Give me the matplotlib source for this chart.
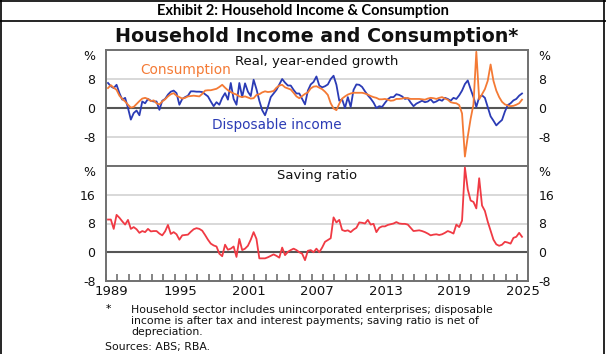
import numpy as np
import matplotlib
matplotlib.use('Agg')
import matplotlib.pyplot as plt
from matplotlib.lines import Line2D

# quarterly data, first quarter 1989 Q1
START_YEAR = 1989

# real household consumption, year-ended growth (%)
consumption = [
    5.5, 6.3, 5.6, 5.0, 3.4, 2.5, 1.8, 0.9, 0.1, 0.3,
    1.1, 1.9, 2.6, 2.8, 2.5, 1.9, 2.1, 1.3, 1.0, 1.8,
    2.4, 3.2, 3.8, 4.1, 3.4, 3.0, 2.6, 2.8, 3.2, 3.3,
    3.4, 3.3, 3.2, 3.9, 4.8, 4.9, 4.9, 5.1, 5.3, 5.8,
    6.4, 5.6, 4.9, 4.4, 4.0, 3.7, 3.2, 3.0, 3.2, 2.9,
    2.6, 2.7, 3.6, 3.8, 4.3, 4.6, 4.4, 4.5, 4.7, 5.6,
    6.2, 6.4, 5.7, 5.4, 5.1, 4.2, 3.2, 2.7, 3.3, 3.9,
    4.3, 5.4, 5.9, 6.0, 5.6, 5.2, 4.5, 3.6, 1.3, -0.1,
    -0.6, 1.2, 2.6, 3.2, 3.7, 4.0, 4.2, 4.2, 4.2, 4.2,
    4.0, 3.7, 3.3, 3.0, 2.8, 2.4, 2.4, 2.5, 2.3, 2.0,
    2.1, 2.5, 2.5, 2.6, 2.8, 2.7, 2.5, 2.5, 2.5, 2.5,
    2.4, 2.3, 2.6, 2.8, 2.7, 2.5, 2.8, 3.0, 2.6, 2.3,
    1.6, 1.4, 1.3, 0.8, -1.5, -13.4, -7.9, -3.0, 1.0, 15.5,
    2.4, 3.8, 5.2, 7.5, 12.0, 7.5, 4.8, 3.0, 1.7, 1.0,
    0.7, 0.5, 0.6, 0.9, 1.3, 2.3,
]

# real household disposable income, year-ended growth (%)
disposable_income = [
    6.9, 6.0, 5.5, 6.4, 4.1, 2.3, 2.8, 0.0, -3.2, -1.4,
    -0.7, -2.0, 1.8, 1.3, 2.5, 2.0, 1.8, 1.8, -0.5, 2.0,
    2.5, 3.7, 4.5, 4.8, 4.1, 0.9, 2.5, 3.0, 3.4, 4.6,
    4.6, 4.5, 4.5, 4.4, 3.8, 3.2, 1.8, 0.5, 1.6, 0.9,
    2.8, 4.1, 2.3, 6.9, 2.5, 0.9, 6.9, 3.0, 6.8, 4.5,
    3.3, 7.8, 5.2, 2.0, -0.6, -2.0, 0.3, 3.0, 4.0, 5.0,
    6.5, 8.0, 7.0, 6.2, 6.2, 5.0, 4.0, 4.0, 2.5, 1.0,
    4.8, 6.5, 7.2, 8.7, 6.2, 5.7, 6.0, 6.5, 8.0, 8.9,
    6.4, 2.0, 2.4, 0.0, 3.0, 0.3, 5.0, 6.5, 6.4, 5.8,
    4.6, 3.5, 2.6, 1.5, 0.0, 0.5, 0.3, 1.4, 2.4, 3.0,
    3.0, 3.8, 3.6, 3.2, 2.5, 2.7, 1.5, 0.5, 1.2, 1.6,
    2.0, 1.6, 1.8, 2.4, 1.5, 1.8, 2.3, 2.0, 2.8, 2.5,
    2.0, 2.8, 2.5, 3.5, 4.8, 6.6, 7.6, 5.2, 3.0, 0.3,
    3.0, 3.5, 2.8, 0.3, -2.3, -3.5, -4.8, -4.0, -3.3, -1.0,
    0.8, 1.3, 2.1, 2.5, 3.4, 4.0,
]

# household saving ratio (%)
saving_ratio = [
    9.1, 9.1, 6.5, 10.4, 9.6, 8.6, 7.7, 9.0, 6.5, 7.0,
    6.4, 5.4, 5.9, 5.6, 6.5, 5.8, 5.9, 5.9, 5.2, 4.7,
    5.8, 7.6, 5.1, 5.6, 5.0, 3.5, 4.7, 4.8, 4.9, 5.7,
    6.4, 6.7, 6.5, 6.0, 4.8, 3.5, 2.4, 1.9, 1.6, -0.4,
    -1.1, 2.1, 0.7, 1.0, 1.6, -1.3, 3.7, 0.6, 1.0, 1.8,
    3.5, 5.6, 3.7, -1.7, -1.7, -1.7, -1.4, -1.0, -0.6, -1.0,
    -1.5, 1.3, -0.8, 0.1, 0.6, 1.0, 0.6, 0.0, -0.4, -2.2,
    0.4, 0.6, 0.0, 1.0, 0.0, 1.3, 2.9, 3.4, 3.9, 9.7,
    8.3, 9.0, 6.2, 5.9, 6.1, 5.6, 6.3, 6.8, 8.3, 8.2,
    8.0, 9.0, 7.7, 7.9, 5.6, 6.8, 7.2, 7.2, 7.6, 7.8,
    8.0, 8.4, 8.0, 7.9, 7.9, 7.7, 6.8, 5.9, 6.0, 6.1,
    5.9, 5.6, 5.2, 4.7, 4.9, 5.0, 4.8, 5.0, 5.4, 5.9,
    5.6, 5.2, 7.7, 7.0, 8.8, 23.6, 17.5, 14.4, 14.0, 12.2,
    20.6, 13.0, 11.5, 8.5, 6.0, 3.5, 2.2, 1.8, 2.1, 2.9,
    2.7, 2.4, 4.0, 4.3, 5.4, 4.3,
]

year_labels = [1989, 1995, 2001, 2007, 2013, 2019, 2025]

ORANGE = '#f47a35'
BLUE = '#2b3bb5'
RED = '#f03a44'
FRAME = '#707070'
GRID = '#d2d2d2'
ZERO = '#555555'
TXT = '#111111'

plt.rcParams['font.family'] = 'DejaVu Sans'

quarters = START_YEAR + 0.175 + 0.25 * np.arange(len(saving_ratio))

W, H = 606, 354
fig = plt.figure(figsize=(W / 100, H / 100), dpi=100)
fig.patch.set_facecolor('white')

ax_top = fig.add_axes([106 / W, 1 - 166 / H, 422 / W, 116 / H])
ax_bot = fig.add_axes([106 / W, 1 - 281 / H, 422 / W, 115 / H])


def style_panel(ax, ylim, ticks, labels, grid):
    ax.set_xlim(START_YEAR, 2025.95)
    ax.set_ylim(*ylim)
    for s in ax.spines.values():
        s.set_color(FRAME)
        s.set_linewidth(1.4)
    for g in grid:
        ax.axhline(g, color=GRID, lw=1.2, zorder=1)
    ax.axhline(0, color=ZERO, lw=1.5, zorder=1)
    ax.set_yticks(ticks)
    ax.set_yticklabels(labels)
    ax.tick_params(axis='y', left=False, right=False, labelleft=True,
                   labelright=True, labelsize=9, pad=4, colors=TXT)
    for lab in ax.get_yticklabels():
        if lab.get_text() == '%':
            lab.set_verticalalignment('top')


style_panel(ax_top, (-16, 16), [16, 8, 0, -8], ['%', '8', '0', '-8'], [8, -8])
style_panel(ax_bot, (-8, 24), [24, 16, 8, 0, -8], ['%', '16', '8', '0', '-8'], [16, 8])

ax_top.set_xticks([])

# yearly tick marks and centred year labels
ax_bot.set_xticks(np.arange(START_YEAR, 2026))
ax_bot.set_xticklabels([])
ax_bot.set_xticks([y + 0.5 for y in year_labels], minor=True)
ax_bot.set_xticklabels([str(y) for y in year_labels], minor=True)
ax_bot.tick_params(axis='x', which='major', direction='in', length=5,
                   width=1.2, color=FRAME)
ax_bot.tick_params(axis='x', which='minor', length=0, labelsize=9.5,
                   pad=3, colors=TXT)

ax_top.plot(quarters, consumption, color=ORANGE, lw=1.3, zorder=3)
ax_top.plot(quarters, disposable_income, color=BLUE, lw=1.3, zorder=2)
ax_bot.plot(quarters, saving_ratio, color=RED, lw=1.3, zorder=3)

ax_top.text(0.5, 0.96, 'Real, year-ended growth', transform=ax_top.transAxes,
            ha='center', va='top', fontsize=9.5, color=TXT)
ax_top.text(0.08, 0.83, 'Consumption', transform=ax_top.transAxes,
            ha='left', va='center', fontsize=9.8, color=ORANGE)
ax_top.text(0.25, 0.35, 'Disposable income', transform=ax_top.transAxes,
            ha='left', va='center', fontsize=9.8, color=BLUE)
ax_bot.text(0.5, 0.97, 'Saving ratio', transform=ax_bot.transAxes,
            ha='center', va='top', fontsize=9.5, color=TXT)

# titles
fig.text(317 / W, 1 - 37 / H, 'Household Income and Consumption*',
         ha='center', va='center', fontsize=13.7, fontweight='bold', color=TXT)
fig.text(303 / W, 1 - 11 / H, 'Exhibit 2: Household Income & Consumption',
         ha='center', va='center', fontsize=10.5, fontweight='bold',
         family='Lato', color='black')

# footnotes
fig.text(108 / W, 1 - 309 / H, '*', ha='center', va='center', fontsize=7.8)
fig.text(131 / W, 1 - 305 / H,
         'Household sector includes unincorporated enterprises; disposable\n'
         'income is after tax and interest payments; saving ratio is net of\n'
         'depreciation.',
         ha='left', va='top', fontsize=7.8, linespacing=1.1, color=TXT)
fig.text(105 / W, 1 - 347 / H, 'Sources: ABS; RBA.', ha='left', va='center',
         fontsize=7.8, color=TXT)

# outer box of the exhibit
for xs, ys in [([1, 1], [0, H]), ([604, 604], [0, H]), ([0, W], [1, 1]),
               ([0, W], [21, 21])]:
    fig.add_artist(Line2D([x / W for x in xs], [1 - y / H for y in ys],
                          color='black', lw=1.2))

fig.savefig('out.png', dpi=100)
